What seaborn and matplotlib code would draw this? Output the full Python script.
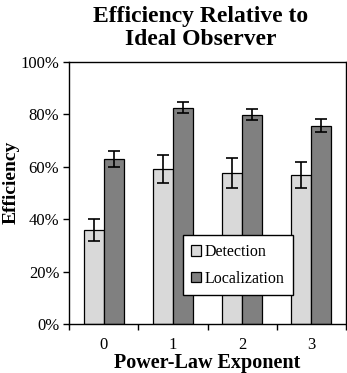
import numpy as np
import pandas as pd
import matplotlib
matplotlib.use("Agg")
import matplotlib.pyplot as plt
import seaborn as sns
from matplotlib.ticker import PercentFormatter, FixedLocator

exponents = ["0", "1", "2", "3"]
detection = [35.8, 59.2, 57.6, 56.9]
detection_err = [4.2, 5.2, 5.8, 5.1]
localization = [63.0, 82.6, 79.8, 75.7]
localization_err = [3.2, 2.1, 2.1, 2.6]
conditions = ["Detection", "Localization"]
colors = ["#d9d9d9", "#808080"]

sns.set_style("white")
plt.rcParams['font.family'] = ['Liberation Serif', 'DejaVu Serif']
plt.rcParams['text.color'] = 'black'
plt.rcParams['axes.labelcolor'] = 'black'
plt.rcParams['xtick.color'] = 'black'
plt.rcParams['ytick.color'] = 'black'

df = pd.DataFrame({
    'exponent': exponents * 2,
    'condition': [conditions[0]] * 4 + [conditions[1]] * 4,
    'efficiency': detection + localization,
    'err': detection_err + localization_err,
})

fig = plt.figure(figsize=(3.47, 3.73), dpi=100)
ax = fig.add_axes([0.199, 0.131, 0.798, 0.703])
sns.barplot(data=df, x='exponent', y='efficiency', hue='condition', palette=colors,
            width=0.58, errorbar=None, edgecolor='black', linewidth=0.9, ax=ax, saturation=1)

# error bars at bar centres
for cont, cond in zip(ax.containers, conditions):
    sub = df[df['condition'] == cond]
    xs = [p.get_x() + p.get_width() / 2 for p in cont.patches]
    ax.errorbar(xs, sub['efficiency'].values, yerr=sub['err'].values, fmt='none',
                ecolor='black', elinewidth=1.2, capsize=4, capthick=1.2)

ax.set_ylim(0, 100)
ax.set_xlim(-0.5, 3.5)
ax.yaxis.set_major_formatter(PercentFormatter(decimals=0))
ax.set_yticks([0, 20, 40, 60, 80, 100])
ax.xaxis.set_minor_locator(FixedLocator([-0.5, 0.5, 1.5, 2.5, 3.5]))
ax.tick_params(axis='x', which='major', length=0, labelsize=12, pad=9)
ax.tick_params(axis='x', which='minor', length=4, width=1, direction='out', bottom=True)
ax.tick_params(axis='y', length=4, width=1, direction='out', left=True, labelsize=12, pad=3)
for s in ax.spines.values():
    s.set_color('black')
    s.set_linewidth(1)

ax.set_xlabel('Power-Law Exponent', fontsize=14.5, fontweight='bold', labelpad=0)
ax.set_ylabel('Efficiency', fontsize=14, fontweight='bold', labelpad=2)
ax.yaxis.set_label_coords(-0.18, 0.54)
ax.set_title('Efficiency Relative to\nIdeal Observer', fontsize=17, fontweight='bold',
             pad=12, linespacing=1.12, x=0.475)

leg = ax.legend(loc='lower left', bbox_to_anchor=(0.41, 0.11), borderaxespad=0,
                frameon=True, fancybox=False, edgecolor='black', fontsize=11.5,
                handlelength=0.6, handleheight=0.6, handletextpad=0.2, borderpad=0.55,
                labelspacing=0.65, framealpha=1)
leg.get_frame().set_linewidth(1)

fig.savefig('out.png', dpi=100)
